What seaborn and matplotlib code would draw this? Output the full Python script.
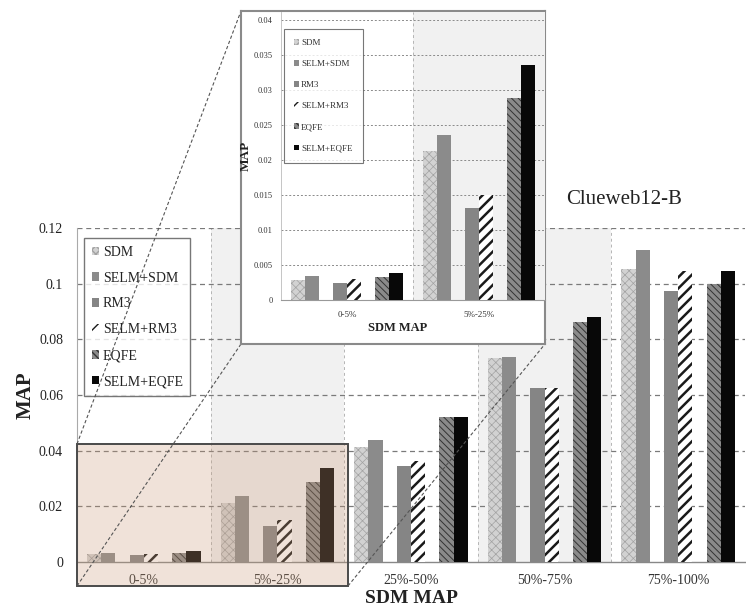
import numpy as np
import pandas as pd
import matplotlib
matplotlib.use('Agg')
import matplotlib.pyplot as plt
from matplotlib.patches import Patch, Rectangle
from matplotlib.lines import Line2D
from matplotlib.ticker import FuncFormatter
import seaborn as sns

# ---------------- data ----------------
groups = ['0-5%', '5%-25%', '25%-50%', '50%-75%', '75%-100%']
series = ['SDM', 'SELM+SDM', 'RM3', 'SELM+RM3', 'EQFE', 'SELM+EQFE']
sdm       = [0.0029, 0.0213, 0.0412, 0.0732, 0.1052]
selm_sdm  = [0.0034, 0.0236, 0.0437, 0.0738, 0.1122]
rm3       = [0.0024, 0.0131, 0.0346, 0.0626, 0.0972]
selm_rm3  = [0.0030, 0.0150, 0.0363, 0.0626, 0.1044]
eqfe      = [0.0033, 0.0288, 0.0521, 0.0862, 0.1000]
selm_eqfe = [0.0039, 0.0336, 0.0521, 0.0880, 0.1046]
main_yticks = [0, 0.02, 0.04, 0.06, 0.08, 0.1, 0.12]
inset_yticks = [0, 0.005, 0.01, 0.015, 0.02, 0.025, 0.03, 0.035, 0.04]
inset_groups = groups[:2]
title_text = 'Clueweb12-B'
x_label = 'SDM MAP'
y_label = 'MAP'

values = [sdm, selm_sdm, rm3, selm_rm3, eqfe, selm_eqfe]
rows = []
for name, vals in zip(series, values):
    for g, v in zip(groups, vals):
        rows.append({'group': g, 'series': name, 'value': v})
df = pd.DataFrame(rows)

# spacer hue levels produce the gaps between pairs of bars
gap1, gap2 = ' ', '  '
hue_order = [series[0], series[1], gap1, series[2], series[3], gap2, series[4], series[5]]
BAR_W = 0.85

styles = {
    'SDM':       dict(fc='#d2d2d2', hatch='xxxx', hc='#a2a2a2', hlw=0.5),
    'SELM+SDM':  dict(fc='#8b8b8b', hatch='', hc='#8b8b8b', hlw=0.5),
    'RM3':       dict(fc='#858585', hatch='', hc='#858585', hlw=0.5),
    'SELM+RM3':  dict(fc='#ffffff', hatch='///', hc='#1a1a1a', hlw=1.8),
    'EQFE':      dict(fc='#8a8a8a', hatch='\\\\\\\\\\', hc='#333333', hlw=0.7),
    'SELM+EQFE': dict(fc='#080808', hatch='', hc='#080808', hlw=0.5),
}
palette = {k: v['fc'] for k, v in styles.items()}
palette[gap1] = '#ffffff'
palette[gap2] = '#ffffff'


def style_patch(p, st, hlw=None):
    p.set_facecolor(st['fc'])
    p.set_edgecolor(st['hc'])
    p.set_hatch(st['hatch'] if st['hatch'] else None)
    p.set_linewidth(0)
    if hasattr(p, 'set_hatch_linewidth'):
        p.set_hatch_linewidth(st['hlw'] if hlw is None else hlw)


def draw_bars(ax, data, order):
    sns.barplot(data=data, x='group', y='value', hue='series', order=order,
                hue_order=hue_order, palette=palette, width=BAR_W,
                errorbar=None, legend=False, saturation=1, ax=ax, zorder=3)
    n = len(hue_order)
    for cont in ax.containers:
        for p in cont.patches:
            w = p.get_width()
            cx = p.get_x() + w / 2
            off = cx - round(cx)
            slot = int(round((off + BAR_W / 2 - w / 2) / w))
            slot = max(0, min(n - 1, slot))
            name = hue_order[slot]
            if name in styles:
                style_patch(p, styles[name])


def legend_handles(scale=1.0):
    hs = []
    for name in series:
        st = styles[name]
        h = Patch(facecolor=st['fc'], edgecolor=st['hc'],
                  hatch=st['hatch'] if st['hatch'] else None, linewidth=0, label=name)
        if hasattr(h, 'set_hatch_linewidth'):
            h.set_hatch_linewidth(st['hlw'] * scale)
        hs.append(h)
    return hs


sns.set_style('white')
plt.rcParams['font.family'] = ['serif']
plt.rcParams['font.serif'] = ['Liberation Serif', 'DejaVu Serif']

W, H = 746, 612
fig = plt.figure(figsize=(W / 100, H / 100), dpi=100)


def fx(px):
    return px / W


def fy(py):
    return 1 - py / H


# ---------------- main axes ----------------
ax = fig.add_axes([fx(77), fy(562), fx(745) - fx(77), fy(228) - fy(562)], zorder=0)
ax.set_facecolor('white')
draw_bars(ax, df, groups)
ax.set_xlim(-0.5, len(groups) - 0.5)
ax.set_ylim(0, 0.12)
for i in (1, 3):
    ax.axvspan(i - 0.5, i + 0.5, color='#f1f1f1', zorder=0, lw=0)
for b in np.arange(0.5, len(groups) - 0.4, 1.0):
    ax.axvline(b, color='#b5b5b5', lw=0.7, ls=(0, (3, 3)), zorder=1)
ax.set_yticks(main_yticks)
ax.yaxis.set_major_formatter(FuncFormatter(lambda v, p: f'{v:g}'))
for t in main_yticks[1:]:
    ax.axhline(t, color='#7a7a7a', lw=0.9, ls=(0, (4, 3)), zorder=1)
ax.set_xticks(np.arange(0.5, len(groups) - 0.5, 1.0), minor=True)
ax.tick_params(axis='x', which='major', length=0, pad=9, labelsize=10, labelcolor='#333')
ax.tick_params(axis='x', which='minor', length=4, width=0.7, color='#999')
ax.tick_params(axis='y', length=4, width=0.8, color='#999', pad=6, labelsize=10, labelcolor='#222')
for s in ('top', 'right'):
    ax.spines[s].set_visible(False)
ax.spines['left'].set_color('#aaaaaa')
ax.spines['left'].set_linewidth(0.8)
ax.spines['bottom'].set_color('#888888')
ax.spines['bottom'].set_linewidth(1.0)
ax.set_xlabel(x_label, fontsize=14, fontweight='bold', labelpad=2, color='#222')
ax.set_ylabel(y_label, fontsize=15, fontweight='bold', labelpad=2, color='#222')

leg = ax.legend(handles=legend_handles(0.6), loc='upper left',
                bbox_to_anchor=(fx(84), fy(238)), bbox_transform=fig.transFigure,
                borderaxespad=0, fontsize=10, frameon=True, fancybox=False,
                handlelength=0.55, handleheight=0.55, handletextpad=0.25,
                labelspacing=0.93, borderpad=0.55)
leg.get_frame().set_edgecolor('#555555')
leg.get_frame().set_linewidth(1.0)
for t in leg.get_texts():
    t.set_color('#222')

# highlighted zoom region
ax.add_patch(Rectangle((-0.5, -0.0086), 2.03, 0.051, facecolor='#cb9a77', alpha=0.28,
                       edgecolor='none', clip_on=False, zorder=6))
ax.add_patch(Rectangle((-0.5, -0.0086), 2.03, 0.051, facecolor='none',
                       edgecolor='#4a4a4a', lw=1.4, clip_on=False, zorder=7))

fig.text(fx(566), fy(199), title_text, fontsize=15, ha='left', va='center', color='#222')

# connector lines
for (x0, y0), (x1, y1) in [((77, 586), (241, 344)), ((77, 444), (241, 11)), ((348, 586), (545, 344))]:
    fig.add_artist(Line2D([fx(x0), fx(x1)], [fy(y0), fy(y1)], color='#555555', lw=0.8,
                          ls=(0, (3, 2)), zorder=1.5))

# ---------------- inset ----------------
frame = fig.add_axes([fx(241), fy(344), fx(545) - fx(241), fy(11) - fy(344)], zorder=3)
frame.set_facecolor('white')
frame.set_xticks([])
frame.set_yticks([])
for s in frame.spines.values():
    s.set_color('#8a8a8a')
    s.set_linewidth(1.5)

top_px = 12
axin = fig.add_axes([fx(281), fy(300), fx(545) - fx(281), fy(top_px) - fy(300)], zorder=4)
axin.set_facecolor('none')
draw_bars(axin, df[df['group'].isin(inset_groups)], inset_groups)
axin.set_xlim(-0.5, len(inset_groups) - 0.5)
axin.set_ylim(0, 0.04 * (300 - top_px) / 280)
axin.axvspan(0.5, 1.5, color='#f1f1f1', zorder=0, lw=0)
axin.axvline(0.5, color='#b5b5b5', lw=0.7, ls=(0, (3, 3)), zorder=1)
axin.set_yticks(inset_yticks)
axin.yaxis.set_major_formatter(FuncFormatter(lambda v, p: f'{v:g}'))
for t in inset_yticks[1:]:
    axin.axhline(t, color='#8a8a8a', lw=0.7, ls=(0, (2, 2)), zorder=1)
axin.tick_params(axis='x', length=0, pad=8, labelsize=6.5, labelcolor='#333')
axin.tick_params(axis='y', length=3, width=0.6, color='#999', pad=3, labelsize=6, labelcolor='#333')
for s in ('top', 'right'):
    axin.spines[s].set_visible(False)
axin.spines['left'].set_color('#bbbbbb')
axin.spines['left'].set_linewidth(0.6)
axin.spines['bottom'].set_color('#999999')
axin.spines['bottom'].set_linewidth(0.8)
axin.set_xlabel(x_label, fontsize=9, fontweight='bold', color='#222')
axin.xaxis.set_label_coords(0.44, -0.075)
axin.set_ylabel(y_label, fontsize=9.5, fontweight='bold', labelpad=1, color='#222')

leg2 = axin.legend(handles=legend_handles(0.5), loc='upper left',
                   bbox_to_anchor=(fx(284), fy(29)), bbox_transform=fig.transFigure,
                   borderaxespad=0, fontsize=6.5, frameon=True, fancybox=False,
                   handlelength=0.6, handleheight=0.6, handletextpad=0.2,
                   labelspacing=1.45, borderpad=1.1)
leg2.get_frame().set_edgecolor('#555555')
leg2.get_frame().set_linewidth(0.8)
for t in leg2.get_texts():
    t.set_color('#333')

fig.savefig('out.png', dpi=100)
